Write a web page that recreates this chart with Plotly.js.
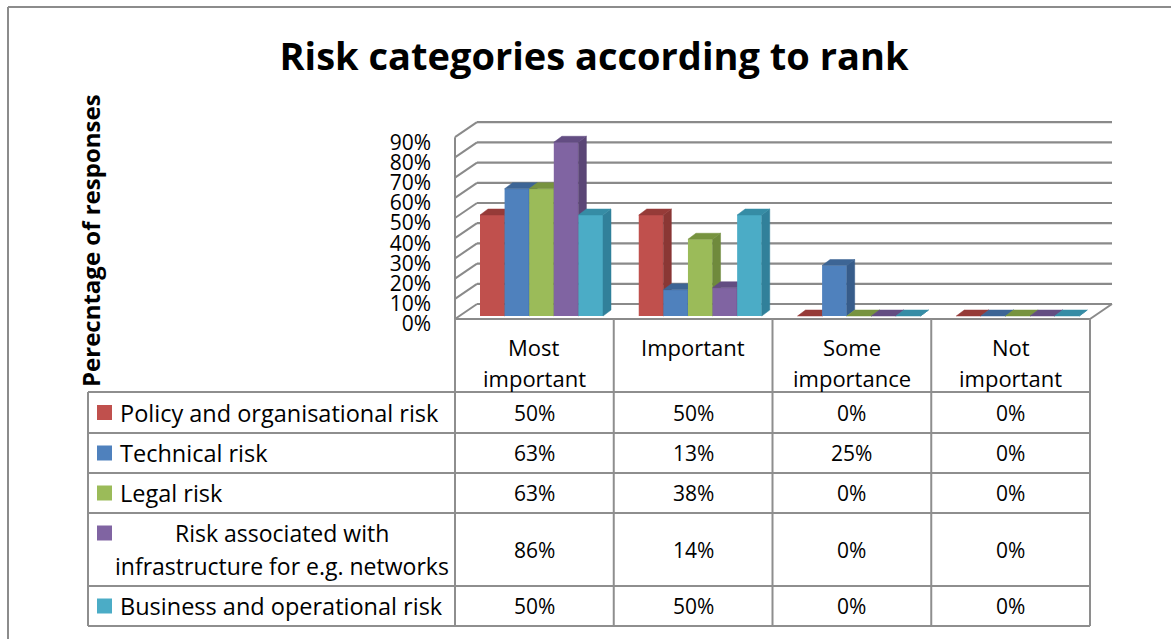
<!DOCTYPE html>
<html><head><meta charset="utf-8">
<script src="https://cdn.plot.ly/plotly-3.0.1.min.js"></script>
<style>html,body{margin:0;padding:0;background:#fff;} #chart{width:1171px;height:639px;}</style>
</head><body><div id="chart"></div>
<script>
// ---------------- DATA ----------------
const chartTitle = "Risk categories according to rank";
const yAxisTitle = "Perecntage of responses";
const categories = ["Most\nimportant", "Important", "Some\nimportance", "Not\nimportant"];
const seriesNames = [
  "Policy and organisational risk",
  "Technical risk",
  "Legal risk",
  "Risk associated with\ninfrastructure for e.g. networks",
  "Business and operational risk"
];
const policyRisk         = [50, 50, 0, 0];
const technicalRisk      = [63, 13, 25, 0];
const legalRisk          = [63, 38, 0, 0];
const infrastructureRisk = [86, 14, 0, 0];
const businessRisk       = [50, 50, 0, 0];
const yTickValues = [0, 10, 20, 30, 40, 50, 60, 70, 80, 90];
const yTickLabels = ["0%", "10%", "20%", "30%", "40%", "50%", "60%", "70%", "80%", "90%"];

// ---------------- STYLE / GEOMETRY ----------------
const seriesValues = [policyRisk, technicalRisk, legalRisk, infrastructureRisk, businessRisk];
const frontColors = ['#C0504D', '#4F81BD', '#9BBB59', '#8064A2', '#4BACC6'];
const sideColors  = ['#8A3734', '#375C8A', '#6F8A3C', '#5B4676', '#31809A'];
const topColors   = ['#963B38', '#3D6595', '#77933F', '#634D82', '#368CA5'];
const FONT = '"Open Sans", Lato, sans-serif';
const W = 1171, H = 639;
const L = 450, R = 1116, T = 115, B = 324;        // plot area (px)
const frontLeft = 455, catPx = 158.75;            // x: category -0.5 at frontLeft
const baseY = 316, yPx = 2.02;                    // y: 0% at baseY, px per %
const nCat = categories.length;
const xRange = [-0.5 - (frontLeft - L) / catPx, -0.5 + (R - frontLeft) / catPx];
const yRange = [-(B - baseY) / yPx, (baseY - T) / yPx];
const barW = 24.6 / catPx, barStart = 25 / catPx - 0.5;
const dxBar = 8 / catPx, dyBar = 6 / yPx;
const floorY = -(319 - baseY) / yPx, wallDx = 22 / catPx, wallDy = 15 / yPx;
const gridColor = '#8A8A8A', tableColor = '#8E8E8E';
const px2X = px => (px - L) / (R - L);
const py2Y = py => (B - py) / (B - T);

// ---------------- TRACES ----------------
const traces = [];
const layoutAxes = {};
seriesValues.forEach((vals, k) => {
  const xa = k === 0 ? 'x' : 'x' + (k + 1);
  const ya = k === 0 ? 'y' : 'y' + (k + 1);
  const xs = vals.map((_, i) => i);
  const off = barStart + k * barW;
  traces.push({
    type: 'bar', name: seriesNames[k].replace('\n', ' '), x: xs, y: vals,
    width: vals.map(() => barW), offset: vals.map(() => off),
    marker: {color: frontColors[k], line: {width: 0}},
    xaxis: xa, yaxis: ya, showlegend: false, hoverinfo: 'skip'
  });
  const sx = [], sy = [], tx = [], ty = [];
  vals.forEach((v, i) => {
    const x0 = i + off, x1 = x0 + barW;
    sx.push(x1, x1, x1 + dxBar, x1 + dxBar, x1, null);
    sy.push(0, v, v + dyBar, dyBar, 0, null);
    tx.push(x0, x1, x1 + dxBar, x0 + dxBar, x0, null);
    ty.push(v, v, v + dyBar, v + dyBar, v, null);
  });
  traces.push({type: 'scatter', mode: 'lines', x: sx, y: sy, fill: 'toself',
    fillcolor: sideColors[k], line: {color: sideColors[k], width: 0.5},
    xaxis: xa, yaxis: ya, showlegend: false, hoverinfo: 'skip'});
  traces.push({type: 'scatter', mode: 'lines', x: tx, y: ty, fill: 'toself',
    fillcolor: topColors[k], line: {color: topColors[k], width: 0.5},
    xaxis: xa, yaxis: ya, showlegend: false, hoverinfo: 'skip'});
  if (k > 0) {
    layoutAxes['xaxis' + (k + 1)] = {range: xRange, visible: false, fixedrange: true, overlaying: 'x'};
    layoutAxes['yaxis' + (k + 1)] = {range: yRange, visible: false, fixedrange: true, overlaying: 'y'};
  }
});

// ---------------- SHAPES ----------------
const shapes = [];
const dline = (x0, y0, x1, y1, color, w) => shapes.push({type: 'line', xref: 'x', yref: 'y',
  x0, y0, x1, y1, line: {color, width: w}, layer: 'below'});
const pline = (x0, y0, x1, y1, color, w) => shapes.push({type: 'line', xref: 'paper', yref: 'paper',
  x0: px2X(x0), y0: py2Y(y0), x1: px2X(x1), y1: py2Y(y1), line: {color, width: w}});
const topTick = yTickValues[yTickValues.length - 1];
yTickValues.forEach(v => {
  dline(-0.5 + wallDx, v + floorY + wallDy, nCat - 0.5 + wallDx, v + floorY + wallDy, gridColor, 2.2);
  dline(-0.5, v + floorY, -0.5 + wallDx, v + floorY + wallDy, gridColor, 2);
});
dline(-0.5, floorY, -0.5, topTick + floorY, gridColor, 2);
dline(-0.5, floorY, nCat - 0.5, floorY, gridColor, 2.2);
dline(nCat - 0.5, floorY, nCat - 0.5 + wallDx, floorY + wallDy, gridColor, 2);

// data table
const tableLeft = 88, headerTop = 319, squareLeft = 97, squareSize = 15, textLeft = 118;
const rowEdges = [392, 433, 473, 513, 586, 626];
const colEdge = i => frontLeft + i * catPx;
rowEdges.forEach(y => pline(tableLeft, y, colEdge(nCat), y, tableColor, 2));
pline(tableLeft, rowEdges[0], tableLeft, rowEdges[rowEdges.length - 1], tableColor, 2);
for (let i = 0; i <= nCat; i++) pline(colEdge(i), headerTop, colEdge(i), rowEdges[rowEdges.length - 1], tableColor, 2);
// chart border
pline(8, 7, W + 20, 7, '#8C8C8C', 2);
pline(8, 7, 8, H + 20, '#8C8C8C', 2);

// ---------------- ANNOTATIONS ----------------
const annotations = [];
const ann = (text, xpx, ypx, size, xanchor, extra) => annotations.push(Object.assign({
  text, x: px2X(xpx), y: py2Y(ypx), xref: 'paper', yref: 'paper', showarrow: false,
  xanchor: xanchor || 'center', yanchor: 'middle', font: {family: FONT, size, color: '#000'}
}, extra || {}));
const headFont = 22, rowFont = 23.5, valFont = 21, lineGap = 31;
categories.forEach((c, i) => {
  c.split('\n').forEach((ln, j) => ann(ln, frontLeft + (i + 0.5) * catPx, 347 + j * lineGap, headFont));
});
seriesNames.forEach((name, k) => {
  const yc = (rowEdges[k] + rowEdges[k + 1]) / 2;
  const lines = name.split('\n');
  const y0 = yc - (lines.length - 1) * 33 / 2;
  if (lines.length === 1) ann(name, textLeft, yc, rowFont, 'left');
  else lines.forEach((ln, j) => ann(ln, 282, y0 + j * 33, rowFont - 0.5));
  shapes.push({type: 'rect', xref: 'paper', yref: 'paper',
    x0: px2X(squareLeft), x1: px2X(squareLeft + squareSize),
    y0: py2Y(y0 - squareSize / 2), y1: py2Y(y0 + squareSize / 2),
    fillcolor: frontColors[k], line: {width: 0}});
  seriesValues[k].forEach((v, i) => ann(v + '%', frontLeft + (i + 0.5) * catPx, yc, valFont));
});
ann('<b>' + yAxisTitle + '</b>', 90, 241, 24, 'center', {textangle: -90});

// ---------------- LAYOUT ----------------
const layout = Object.assign({
  width: W, height: H,
  margin: {l: L, r: W - R, t: T, b: H - B, pad: 0},
  paper_bgcolor: '#fff', plot_bgcolor: 'rgba(0,0,0,0)',
  showlegend: false, barmode: 'overlay',
  title: {text: '<b>' + chartTitle + '</b>', x: 594 / W, xanchor: 'center', y: 1 - 57 / H, yanchor: 'middle',
    xref: 'container', yref: 'container', font: {family: FONT, size: 38, color: '#000'}},
  xaxis: {range: xRange, visible: false, fixedrange: true},
  yaxis: {range: yRange, tickvals: yTickValues, ticktext: yTickLabels, showgrid: false, zeroline: false,
    showline: false, ticks: '', ticklabelstandoff: 18, ticklabelshift: 8, fixedrange: true,
    tickfont: {family: FONT, size: 21, color: '#000'}},
  shapes, annotations
}, layoutAxes);

Plotly.newPlot('chart', traces, layout, {staticPlot: true, displayModeBar: false});
</script></body></html>
